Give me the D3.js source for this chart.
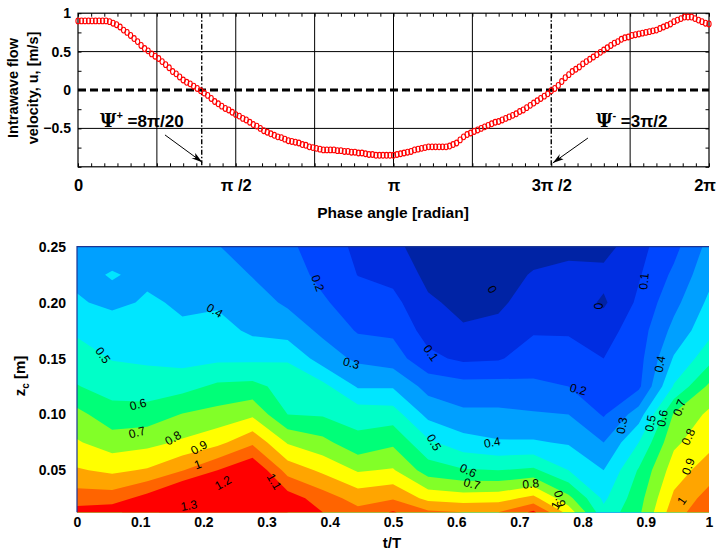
<!DOCTYPE html>
<html><head><meta charset="utf-8">
<script src="https://cdn.jsdelivr.net/npm/d3@7/dist/d3.min.js"></script>
<style>
body{margin:0;background:#fff}
svg{display:block}
text{font-family:"Liberation Sans",Arial,sans-serif}
</style>
</head><body>
<svg id="chart" width="716" height="552"></svg>
<script>
// ---------------- DATA ----------------
// Top panel: phase angle samples (degrees) and intrawave velocity u [m/s]
const phaseStepDeg = 2;
const velocity = [
 0.90,0.90,0.90,0.90,0.90,0.90,0.90,0.90,0.90,0.89,
 0.87,0.85,0.82,0.78,0.75,0.71,0.67,0.63,0.58,0.54,
 0.51,0.47,0.44,0.41,0.37,0.33,0.29,0.24,0.21,0.17,
 0.13,0.10,0.08,0.05,0.02,-0.01,-0.04,-0.07,-0.11,-0.15,
 -0.18,-0.21,-0.24,-0.26,-0.29,-0.32,-0.34,-0.37,-0.39,-0.42,
 -0.45,-0.47,-0.50,-0.53,-0.55,-0.57,-0.59,-0.61,-0.62,-0.64,
 -0.66,-0.67,-0.68,-0.69,-0.71,-0.72,-0.74,-0.75,-0.76,-0.77,
 -0.78,-0.78,-0.78,-0.78,-0.79,-0.79,-0.80,-0.80,-0.81,-0.81,
 -0.82,-0.82,-0.83,-0.84,-0.84,-0.85,-0.85,-0.85,-0.85,-0.85,
 -0.85,-0.84,-0.83,-0.82,-0.81,-0.80,-0.78,-0.77,-0.76,-0.75,
 -0.74,-0.74,-0.74,-0.74,-0.74,-0.74,-0.73,-0.71,-0.69,-0.65,
 -0.61,-0.58,-0.56,-0.54,-0.52,-0.50,-0.48,-0.46,-0.44,-0.42,
 -0.41,-0.39,-0.37,-0.35,-0.33,-0.31,-0.28,-0.26,-0.23,-0.20,
 -0.17,-0.14,-0.11,-0.08,-0.05,-0.01,0.02,0.06,0.11,0.16,
 0.20,0.24,0.27,0.30,0.34,0.37,0.40,0.43,0.46,0.49,
 0.52,0.55,0.58,0.61,0.63,0.66,0.68,0.69,0.71,0.72,
 0.73,0.74,0.75,0.76,0.77,0.78,0.80,0.82,0.84,0.86,
 0.89,0.91,0.93,0.95,0.95,0.95,0.93,0.91,0.89,0.87,
 0.86
];
const phaseTickValues = [0, Math.PI/2, Math.PI, 3*Math.PI/2, 2*Math.PI];
const phaseTickLabels = ["0", "\u03C0 /2", "\u03C0", "3\u03C0 /2", "2\u03C0"];
const uTickValues = [-0.5, 0, 0.5, 1];
const psiPlus = 1.232;          // marked phase of flow reversal (label 8π/20)
const psiMinus = 3*Math.PI/2;   // 3π/2

// Bottom panel: contour field u(t/T, z_c)
const tGrid = [0,0.0556,0.1111,0.1667,0.2222,0.2778,0.3333,0.3889,0.4444,0.5,
               0.5556,0.6111,0.6667,0.7222,0.7778,0.8333,0.8889,0.9444,1];
const zGrid = [0.25,0.225,0.2,0.175,0.15,0.125,0.1,0.075,0.05,0.025,0.0125]; // top -> bottom
// one column per tGrid entry, values top -> bottom (zGrid order)
const uField = [
 [0.36,0.38,0.41,0.485,0.545,0.605,0.73,0.81,0.91,1.05,1.14],
 [0.37,0.405,0.38,0.45,0.495,0.56,0.64,0.75,0.88,1.05,1.17],
 [0.37,0.385,0.41,0.445,0.485,0.545,0.645,0.77,0.91,1.14,1.28],
 [0.365,0.375,0.39,0.41,0.465,0.565,0.705,0.815,0.995,1.27,1.34],
 [0.305,0.35,0.385,0.44,0.48,0.62,0.735,0.87,1.1,1.29,1.35],
 [0.25,0.295,0.34,0.38,0.48,0.63,0.78,0.98,1.2,1.35,1.38],
 [0.22,0.25,0.285,0.355,0.49,0.56,0.6,0.79,0.96,1.15,1.2],
 [0.15,0.17,0.215,0.28,0.35,0.53,0.59,0.73,0.88,1.05,1.1],
 [0.08,0.098,0.14,0.19,0.28,0.39,0.56,0.63,0.79,0.96,1.03],
 [0.03,0.07,0.13,0.18,0.25,0.39,0.55,0.68,0.81,0.99,1.11],
 [-0.06,-0.025,0.015,0.06,0.125,0.265,0.37,0.52,0.65,0.87,1.02],
 [-0.07,-0.05,-0.025,0.01,0.08,0.24,0.32,0.44,0.61,0.85,1.0],
 [-0.07,-0.05,-0.02,0.03,0.09,0.24,0.32,0.41,0.6,0.86,1.0],
 [-0.05,0.01,0.05,0.09,0.15,0.22,0.31,0.41,0.62,0.93,1.12],
 [-0.03,0.03,0.06,0.09,0.14,0.2,0.3,0.39,0.5,0.73,0.86],
 [-0.04,0.03,-0.015,0.06,0.1,0.15,0.19,0.3,0.4,0.48,0.53],
 [0.07,0.09,0.12,0.15,0.165,0.18,0.35,0.5,0.61,0.66,0.68],
 [0.17,0.22,0.27,0.33,0.41,0.51,0.71,0.78,0.85,0.92,0.96],
 [0.33,0.37,0.42,0.47,0.56,0.72,0.82,0.87,0.95,1.04,1.07]
];
const levels = [0,0.1,0.2,0.3,0.4,0.5,0.6,0.7,0.8,0.9,1.0,1.1,1.2,1.3];
const bandColors = ["#0023a5","#002de1","#0046ff","#006eff","#00a0ff","#00e6ff","#00ffc8",
                    "#00ff78","#82ff28","#ffff00","#ffa500","#ff6400","#ff0000","#ff0000","#ff0000"];
const tTicks = [0,0.1,0.2,0.3,0.4,0.5,0.6,0.7,0.8,0.9,1];
const tTickLabels = ["0","0.1","0.2","0.3","0.4","0.5","0.6","0.7","0.8","0.9","1"];
const zTicks = [0.05,0.10,0.15,0.20,0.25];
const zTickLabels = ["0.05","0.10","0.15","0.20","0.25"];
// contour labels: [text, t/T, z, rotation]
const contourLabels = [
 ["0.2",0.381,0.2175,70],["0.4",0.218,0.193,30],["0.5",0.041,0.153,55],["0.3",0.434,0.146,15],
 ["0",0.657,0.212,60],["0.1",0.560,0.155,55],["0",0.824,0.197,90],["0.1",0.897,0.219,-85],
 ["0.2",0.793,0.1225,15],["0.3",0.862,0.090,-80],["0.4",0.922,0.145,-80],["0.5",0.907,0.092,-80],
 ["0.6",0.926,0.0966,-80],["0.7",0.953,0.106,-70],["0.8",0.967,0.080,-65],["0.9",0.967,0.0535,-70],
 ["1",0.957,0.023,-55],["0.4",0.657,0.075,-10],["0.5",0.565,0.075,60],["0.6",0.619,0.050,25],
 ["0.7",0.625,0.038,15],["0.8",0.718,0.038,-5],["0.9",0.764,0.0247,75],["1",0.757,0.0185,-60],
 ["0.6",0.0965,0.109,-15],["0.7",0.095,0.084,-15],["0.8",0.152,0.079,-30],["0.9",0.193,0.0706,-30],
 ["1",0.191,0.0553,-20],["1.2",0.231,0.039,-30],["1.3",0.177,0.0186,-10],["1.1",0.312,0.040,60]
];

// ---------------- TOP PANEL ----------------
const svg = d3.select("#chart");
const xP = d3.scaleLinear().domain([0, 2*Math.PI]).range([78, 709]);
const yU = d3.scaleLinear().domain([-1, 1]).range([166.8, 13.2]);
const gTop = svg.append("g");

// grid lines
const gridPhases = d3.range(1, 8).filter(k => k !== 6).map(k => k*Math.PI/4);
gTop.selectAll("line.vg").data(gridPhases).join("line")
  .attr("x1", d => xP(d)).attr("x2", d => xP(d))
  .attr("y1", yU(1)).attr("y2", yU(-1))
  .attr("stroke", "#000").attr("stroke-width", 1);
gTop.selectAll("line.hg").data([0.5, -0.5]).join("line")
  .attr("x1", xP(0)).attr("x2", xP(2*Math.PI))
  .attr("y1", d => yU(d)).attr("y2", d => yU(d))
  .attr("stroke", "#000").attr("stroke-width", 1);

// minor ticks (inward) via axes
const minorPh = d3.range(0, 49).map(k => k*Math.PI/24);
const minorU = d3.range(-4, 5).map(k => k*0.25);
gTop.append("g").attr("transform", `translate(0,${yU(-1)})`)
  .call(d3.axisBottom(xP).tickValues(minorPh).tickSize(-3.5).tickFormat(""))
  .call(g => g.select(".domain").remove());
gTop.append("g").attr("transform", `translate(0,${yU(1)})`)
  .call(d3.axisTop(xP).tickValues(minorPh).tickSize(-3.5).tickFormat(""))
  .call(g => g.select(".domain").remove());
gTop.append("g").attr("transform", `translate(${xP(0)},0)`)
  .call(d3.axisLeft(yU).tickValues(minorU).tickSize(-3.5).tickFormat(""))
  .call(g => g.select(".domain").remove());
gTop.append("g").attr("transform", `translate(${xP(2*Math.PI)},0)`)
  .call(d3.axisRight(yU).tickValues(minorU).tickSize(-3.5).tickFormat(""))
  .call(g => g.select(".domain").remove());

// tick labels
const xAx = gTop.append("g").attr("transform", `translate(0,${yU(-1)})`)
  .call(d3.axisBottom(xP).tickValues(phaseTickValues).tickSize(0).tickPadding(12)
        .tickFormat((d, i) => phaseTickLabels[i]));
xAx.select(".domain").remove();
xAx.selectAll("text").attr("font-size", 16.5).attr("font-weight", "bold").attr("fill", "#000")
  .attr("font-family", "Liberation Sans, Arial, sans-serif")
  .attr("text-anchor", (d, i) => i === phaseTickValues.length - 1 ? "end" : "middle")
  .attr("dx", (d, i) => i === phaseTickValues.length - 1 ? 6.5 : 0);
const yAx = gTop.append("g").attr("transform", `translate(${xP(0)},0)`)
  .call(d3.axisLeft(yU).tickValues(uTickValues).tickSize(0).tickPadding(7)
        .tickFormat(d3.format("")));
yAx.select(".domain").remove();
yAx.selectAll("text").attr("font-size", 14).attr("font-weight", "bold").attr("fill", "#000")
  .attr("font-family", "Liberation Sans, Arial, sans-serif");

// zero dashed line
gTop.append("line").attr("x1", xP(0)).attr("x2", xP(2*Math.PI))
  .attr("y1", yU(0)).attr("y2", yU(0))
  .attr("stroke", "#000").attr("stroke-width", 3).attr("stroke-dasharray", "8,4");
// dash-dot reversal lines
gTop.selectAll("line.psi").data([psiPlus, psiMinus]).join("line")
  .attr("x1", d => xP(d)).attr("x2", d => xP(d))
  .attr("y1", yU(1)).attr("y2", yU(-1))
  .attr("stroke", "#000").attr("stroke-width", 1.4).attr("stroke-dasharray", "5,2,1.5,2");

// frame
gTop.append("rect").attr("x", xP(0)).attr("y", yU(1))
  .attr("width", xP(2*Math.PI) - xP(0)).attr("height", yU(-1) - yU(1))
  .attr("fill", "none").attr("stroke", "#000").attr("stroke-width", 1.2);

// velocity circles
gTop.selectAll("ellipse.u").data(velocity).join("ellipse")
  .attr("cx", (d, i) => xP(i*phaseStepDeg*Math.PI/180))
  .attr("cy", d => yU(d))
  .attr("rx", 2.1).attr("ry", 2.9)
  .attr("fill", "none").attr("stroke", "#ff0000").attr("stroke-width", 1.1);

// annotations
function arrow(x1, y1, x2, y2) {
  gTop.append("line").attr("x1", x1).attr("y1", y1).attr("x2", x2).attr("y2", y2)
    .attr("stroke", "#000").attr("stroke-width", 1);
  const a = Math.atan2(y2 - y1, x2 - x1), L = 11, w = 3.2;
  const bx = x2 - L*Math.cos(a), by = y2 - L*Math.sin(a);
  const px = -Math.sin(a)*w, py = Math.cos(a)*w;
  gTop.append("path").attr("d", `M${x2},${y2}L${bx+px},${by+py}L${bx+px*0.2+Math.cos(a)*3},${by+py*0.2+Math.sin(a)*3}L${bx-px},${by-py}Z`)
    .attr("fill", "#000");
}
arrow(xP(0.866), yU(-0.585), xP(psiPlus)+0.5, yU(-0.94));
arrow(xP(5.078), yU(-0.625), xP(psiMinus)+1.5, yU(-0.95));

const t1 = gTop.append("text").attr("x", xP(0.219)).attr("y", yU(-0.485))
  .attr("font-size", 17).attr("font-weight", "bold");
t1.append("tspan").text("\u03A8").attr("font-family", "DejaVu Serif, serif").attr("font-size", 18);
t1.append("tspan").text("+").attr("font-size", 11).attr("dy", -8);
t1.append("tspan").text(" =8\u03C0/20").attr("dy", 8);
const t2 = gTop.append("text").attr("x", xP(5.158)).attr("y", yU(-0.485))
  .attr("font-size", 17).attr("font-weight", "bold");
t2.append("tspan").text("\u03A8").attr("font-family", "DejaVu Serif, serif").attr("font-size", 18);
t2.append("tspan").text("-").attr("font-size", 11).attr("dy", -8);
t2.append("tspan").text(" =3\u03C0/2").attr("dy", 8);

// axis titles
svg.append("text").attr("x", 393).attr("y", 218).attr("text-anchor", "middle")
  .attr("font-size", 15.5).attr("font-weight", "bold").text("Phase angle [radian]");
svg.append("text").attr("transform", "translate(18,88) rotate(-90)").attr("text-anchor", "middle")
  .attr("font-size", 14.5).attr("font-weight", "bold").text("Intrawave flow");
svg.append("text").attr("transform", "translate(38,88) rotate(-90)").attr("text-anchor", "middle")
  .attr("font-size", 14.5).attr("font-weight", "bold").text("velocity, u, [m/s]");

// ---------------- BOTTOM PANEL ----------------
const xT = d3.scaleLinear().domain([0, 1]).range([77, 709]);
const yZ = d3.scaleLinear().domain([0.0125, 0.25]).range([512.3, 246.7]);
const nx = tGrid.length, ny = zGrid.length;
const tAt = d3.scaleLinear().domain(d3.range(nx)).range(tGrid);
const zAt = d3.scaleLinear().domain(d3.range(ny)).range(zGrid);
const vals = [];
for (let r = 0; r < ny; r++) for (let c = 0; c < nx; c++) vals.push(uField[c][r]);
const proj = d3.geoTransform({
  point(px, py) {
    const ix = Math.max(0, Math.min(nx - 1, px - 0.5));
    const iy = Math.max(0, Math.min(ny - 1, py - 0.5));
    this.stream.point(xT(tAt(ix)), yZ(zAt(iy)));
  }
});
const cpath = d3.geoPath(proj);
const contours = d3.contours().size([nx, ny]).thresholds(levels)(vals);
const gBot = svg.append("g");
gBot.append("rect").attr("x", xT(0)).attr("y", yZ(0.25))
  .attr("width", xT(1) - xT(0)).attr("height", yZ(0.0125) - yZ(0.25))
  .attr("fill", bandColors[0]);
gBot.selectAll("path.band").data(contours).join("path")
  .attr("d", d => cpath(d)).attr("fill", (d, i) => bandColors[i + 1]);

// frame edges
gBot.append("path").attr("d", `M${xT(0)},${yZ(0.0125)}V${yZ(0.25)}H${xT(1)}`)
  .attr("fill", "none").attr("stroke", "#1b3593").attr("stroke-width", 1.2);

// contour labels
gBot.selectAll("text.cl").data(contourLabels).join("text")
  .attr("transform", d => `translate(${xT(d[1])},${yZ(d[2])}) rotate(${d[3]})`)
  .attr("text-anchor", "middle").attr("dy", "0.35em")
  .attr("font-size", 12).attr("fill", "#000").text(d => d[0]);

// axes
const bx = gBot.append("g").attr("transform", `translate(0,${yZ(0.0125)})`)
  .call(d3.axisBottom(xT).tickValues(tTicks).tickSize(0).tickPadding(5)
        .tickFormat((d, i) => tTickLabels[i]));
bx.select(".domain").remove();
bx.selectAll("text").attr("font-size", 14).attr("font-weight", "bold").attr("fill", "#000")
  .attr("font-family", "Liberation Sans, Arial, sans-serif");
const by = gBot.append("g").attr("transform", `translate(${xT(0)},0)`)
  .call(d3.axisLeft(yZ).tickValues(zTicks).tickSize(0).tickPadding(11)
        .tickFormat((d, i) => zTickLabels[i]));
by.select(".domain").remove();
by.selectAll("text").attr("font-size", 14).attr("font-weight", "bold").attr("fill", "#000")
  .attr("font-family", "Liberation Sans, Arial, sans-serif");

svg.append("text").attr("x", 392).attr("y", 548).attr("text-anchor", "middle")
  .attr("font-size", 15).attr("font-weight", "bold").text("t/T");
const zl = svg.append("text").attr("transform", "translate(25,376) rotate(-90)")
  .attr("text-anchor", "middle").attr("font-size", 15).attr("font-weight", "bold");
zl.append("tspan").text("z");
zl.append("tspan").text("c").attr("font-size", 10).attr("dy", 4);
zl.append("tspan").text(" [m]").attr("dy", -4);
</script>
</body></html>
